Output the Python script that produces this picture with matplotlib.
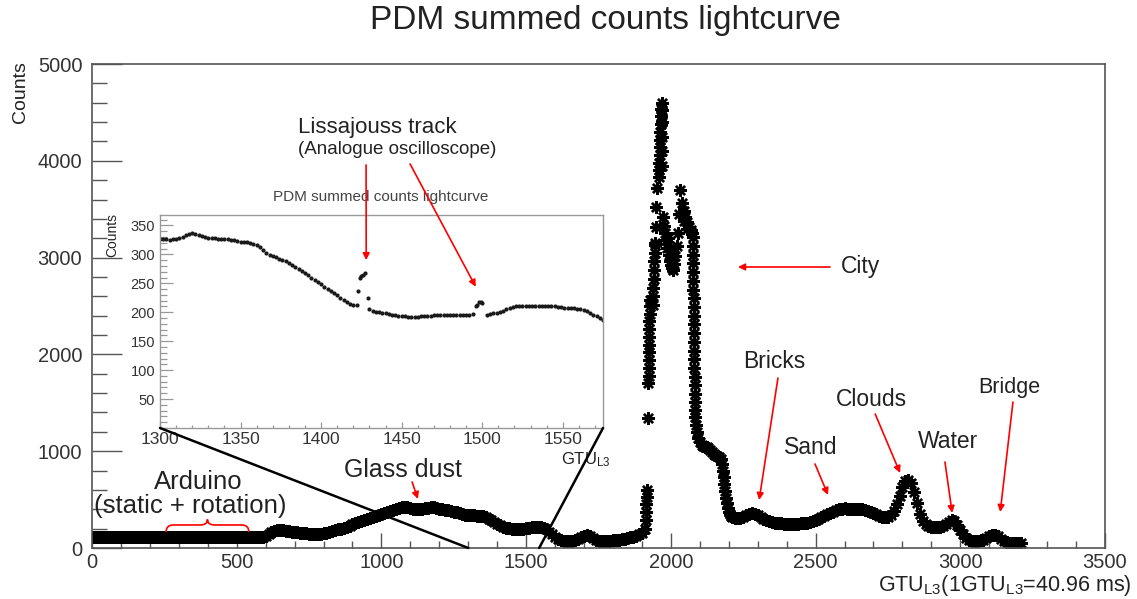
import numpy as np
import matplotlib
matplotlib.use("Agg")
import matplotlib.pyplot as plt
import matplotlib.ticker as ticker
from matplotlib.path import Path
from matplotlib.patches import PathPatch, ConnectionPatch

W, H = 1137, 599

# ---- main lightcurve (GTU, counts) ----
base_gtu = np.arange(0, 1910, 10)
base_counts = [
    110, 111, 109, 110, 112, 110, 109, 111, 110, 110,
    111, 109, 110, 112, 110, 109, 110, 111, 110, 109,
    110, 112, 111, 109, 110, 110, 111, 109, 110, 112,
    110, 109, 111, 110, 110, 111, 109, 110, 112, 110,
    109, 110, 111, 110, 109, 110, 112, 110, 109, 111,
    110, 110, 111, 109, 110, 112, 110, 109, 111,
    115, 125, 145, 165, 180, 190, 190, 185, 178, 172,
    170, 168, 165, 160, 155, 150, 148, 146, 145, 145,
    147, 152, 160, 168, 176, 185, 193, 200, 210, 220,
    232, 245, 258, 270, 282, 293, 302, 312, 322, 332,
    342, 350, 360, 370, 382, 395, 405, 414, 420, 422,
    420, 415, 408, 403, 402, 405, 412, 418, 421, 420,
    415, 408, 400, 393, 388, 382, 376, 370, 364, 356,
    346, 338, 336, 340, 334, 330, 326, 320, 302, 290,
    273, 253, 234, 218, 210, 203, 198, 197, 200, 201,
    201, 205, 204, 213, 215, 215, 213, 209, 197, 170,
    145, 115, 90, 78, 72, 70, 70, 72, 78, 90,
    110, 128, 134, 125, 105, 85, 75, 72, 72, 74,
    76, 80, 83, 87, 92, 97, 103, 110, 118, 128,
    142, 160,
]

peak_gtu = [
    1910, 1913, 1914, 1915, 1916, 1917, 1920, 1922, 1923, 1923,
    1924, 1924, 1925, 1925, 1926, 1926, 1927, 1927, 1928,
    1938, 1939, 1940, 1941, 1942, 1943, 1944, 1945, 1946, 1948,
    1950, 1952,
    1958, 1959, 1960, 1961, 1962, 1963, 1964, 1965, 1966, 1967,
    1968, 1970, 1971, 1971, 1970, 1969,
    1972, 1976, 1980, 1984, 1988, 1992, 1996, 2000, 2004, 2008,
    1990, 1998, 2004,
    2012, 2016, 2020, 2024, 2028, 2032,
    2038, 2044, 2050, 2056, 2062, 2068, 2074, 2046, 2056,
    2076, 2076, 2077, 2077, 2078, 2078, 2078, 2079, 2079, 2079,
    2080, 2080, 2080, 2081, 2081, 2081, 2082, 2082, 2082, 2083,
    2083,
    2085, 2088, 2091, 2095, 2100, 2106, 2112, 2118, 2124, 2130,
    2136, 2142, 2148, 2154, 2160, 2166, 2172,
    2176, 2179, 2182, 2185, 2188, 2191, 2194, 2197, 2200, 2204,
    2208,
]
peak_counts = [
    200, 290, 370, 450, 530, 600, 1340, 1700, 1780, 1860,
    1940, 2020, 2100, 2180, 2260, 2340, 2420, 2500, 2560,
    2510, 2600, 2690, 2780, 2870, 2960, 3050, 3130, 3150, 3320,
    3520, 3720,
    3830, 3900, 3980, 4060, 4140, 4220, 4300, 4380, 4460, 4540,
    4600, 4520, 4400, 4250, 4100, 3950,
    3420, 3330, 3250, 3180, 3100, 3030, 2970, 2920, 2890, 2870,
    3200, 3100, 3000,
    2930, 3020, 3120, 3250, 3450, 3700,
    3560, 3480, 3420, 3370, 3320, 3280, 3250, 3380, 3300,
    3210, 3120, 3030, 2940, 2850, 2760, 2670, 2580, 2490, 2400,
    2310, 2220, 2130, 2040, 1950, 1860, 1770, 1680, 1590, 1510,
    1425,
    1350, 1270, 1200, 1140, 1090, 1060, 1050, 1045, 1040, 1030,
    1010, 990, 975, 965, 955, 940, 920,
    870, 800, 730, 660, 590, 520, 460, 410, 375, 350,
    335,
]

tail_gtu = np.arange(2210, 3220, 10)
tail_counts = [
    325, 310, 305, 310, 325, 340, 355, 360, 355, 340,
    320, 300, 290, 280, 270, 263, 258, 254, 251, 250,
    250, 250, 251, 252, 254, 257, 262, 268, 276, 288,
    300, 318, 335, 350, 362, 375, 390, 400, 408, 410,
    408, 404, 400, 400, 402, 400, 393, 383, 372, 360,
    347, 335, 325, 320, 325, 345, 380, 450, 540, 630,
    690, 700, 670, 580, 460, 350, 280, 245, 228, 220,
    218, 220, 222, 228, 245, 270, 290, 280, 240, 190,
    140, 100, 80, 75, 74, 75, 78, 85, 100, 120,
    133, 135, 120, 95, 70, 60, 55, 52, 52, 50,
    50,
]

# ---- zoomed inset 1300-1575 ----
inset_gtu = [
    1300, 1302, 1304, 1306, 1308, 1310, 1312, 1314, 1316, 1318,
    1320, 1322, 1324, 1326, 1328, 1330, 1332, 1334, 1336, 1338,
    1340, 1342, 1344, 1346, 1348, 1350, 1352, 1354, 1356, 1358,
    1360, 1362, 1364, 1366, 1368, 1370, 1372, 1374, 1376, 1378,
    1380, 1382, 1384, 1386, 1388, 1390, 1392, 1394, 1396, 1398,
    1400, 1402, 1404, 1406, 1408, 1410, 1412, 1414, 1416, 1418,
    1420, 1422,
    1423, 1424, 1425, 1426, 1427, 1429,
    1430, 1432, 1434, 1436, 1438, 1440, 1442, 1444, 1446, 1448,
    1450, 1452, 1454, 1456, 1458, 1460, 1462, 1464, 1466, 1468,
    1470, 1472, 1474, 1476, 1478, 1480, 1482, 1484, 1486, 1488,
    1490, 1492, 1494,
    1496, 1497, 1498, 1499, 1500,
    1503, 1505, 1507, 1509, 1511, 1513, 1515, 1517, 1519, 1521,
    1523, 1525, 1527, 1529, 1531, 1533, 1535, 1537, 1539, 1541,
    1543, 1545, 1547, 1549, 1551, 1553, 1555, 1557, 1559, 1561,
    1563, 1565, 1567, 1569, 1571, 1573, 1575,
]
inset_counts = [
    327, 326, 326, 325, 326, 326, 328, 330, 333, 336,
    337, 336, 334, 332, 330, 329, 328, 328, 327, 327,
    326, 326, 325, 324, 323, 322, 322, 321, 320, 318,
    316, 312, 307, 302, 299, 297, 295, 292, 290, 288,
    285, 281, 278, 275, 272, 268, 264, 260, 256, 252,
    248, 244, 240, 236, 233, 229, 225, 221, 218, 215,
    213, 212,
    236, 259, 262, 264, 267, 224,
    205, 203, 201, 200, 199, 198, 197, 196, 195, 194,
    193, 193, 192, 192, 192, 192, 193, 193, 194, 194,
    195, 195, 196, 196, 196, 196, 196, 196, 196, 196,
    196, 196, 197,
    210, 213, 217, 218, 216,
    196, 197, 198, 199, 201, 203, 205, 207, 209, 210,
    210, 211, 211, 211, 211, 211, 211, 211, 210, 210,
    210, 210, 209, 209, 208, 208, 207, 207, 206, 205,
    204, 202, 199, 196, 193, 190, 187,
]

TXT = "#222222"


def fx(px):
    return px / W


def fy(py):
    return 1 - py / H


def add_brace(ax, x0, x1, y0, y1, y2, w):
    xm = 0.5 * (x0 + x1)
    verts = [
        (x0, y0), (x0, y1), (x0 + w, y1),
        (xm - w, y1), (xm, y1), (xm, y2),
        (xm, y1), (xm + w, y1),
        (x1 - w, y1), (x1, y1), (x1, y0),
    ]
    codes = [
        Path.MOVETO, Path.CURVE3, Path.CURVE3,
        Path.LINETO, Path.CURVE3, Path.CURVE3,
        Path.CURVE3, Path.CURVE3,
        Path.LINETO, Path.CURVE3, Path.CURVE3,
    ]
    ax.add_patch(PathPatch(Path(verts, codes), fc="none", ec="red", lw=1.2, zorder=6))


plt.rcParams.update({"font.family": "Liberation Sans", "mathtext.default": "regular"})
fig = plt.figure(figsize=(W / 100, H / 100), dpi=100)

# main axes
ax = fig.add_axes([fx(92), fy(548), (1105 - 92) / W, (548 - 64) / H])
star = (8, 2, 0)
for gx, gy in [(base_gtu, base_counts), (peak_gtu, peak_counts), (tail_gtu, tail_counts)]:
    ax.plot(gx, gy, ls="none", marker=star, ms=9, mew=1.7, color="k")
ax.set_xlim(0, 3500)
ax.set_ylim(0, 5000)
ax.xaxis.set_major_locator(ticker.MultipleLocator(500))
ax.xaxis.set_minor_locator(ticker.MultipleLocator(100))
ax.yaxis.set_major_locator(ticker.MultipleLocator(1000))
ax.yaxis.set_minor_locator(ticker.MultipleLocator(200))
ax.tick_params(which="both", direction="in", color="#555555", width=1.0,
               labelsize=14.5, labelcolor="#333333")
ax.tick_params(axis="x", which="major", length=10.5, pad=3.5)
ax.tick_params(axis="x", which="minor", length=5)
ax.tick_params(axis="y", which="major", length=21.5, pad=7)
ax.tick_params(axis="y", which="minor", length=11)
for s in ax.spines.values():
    s.set_color("#555555")
    s.set_linewidth(1.2)

fig.text(fx(605), fy(21), "PDM summed counts lightcurve", ha="center", va="center",
         size=24, color=TXT)
fig.text(fx(20), fy(92), "Counts", rotation=90, ha="center", va="center",
         size=14, color=TXT)
fig.text(fx(1132), fy(585), r"GTU$_{L3}$(1GTU$_{L3}$=40.96 ms)", ha="right",
         va="center", size=15.5, color=TXT)

# inset
ax_in = fig.add_axes([fx(160), fy(428), (603 - 160) / W, (428 - 215) / H])
ax_in.set_facecolor("white")
ax_in.plot(inset_gtu, inset_counts, ls="none", marker="o", ms=3.0, mew=0, color="#1a1a1a")
ax_in.set_xlim(1300, 1575)
ax_in.set_ylim(0, 368)
ax_in.xaxis.set_major_locator(ticker.MultipleLocator(50))
ax_in.xaxis.set_minor_locator(ticker.MultipleLocator(10))
ax_in.yaxis.set_major_locator(ticker.FixedLocator([50, 100, 150, 200, 250, 300, 350]))
ax_in.yaxis.set_minor_locator(ticker.MultipleLocator(10))
ax_in.tick_params(which="both", direction="in", color="#999999", width=0.9,
                  labelcolor="#333333")
ax_in.tick_params(axis="x", which="major", length=4.6, pad=3, labelsize=12.5)
ax_in.tick_params(axis="x", which="minor", length=2.3)
ax_in.tick_params(axis="y", which="major", length=9.4, pad=3.5, labelsize=10.5)
ax_in.tick_params(axis="y", which="minor", length=4.7)
for s in ax_in.spines.values():
    s.set_color("#999999")
    s.set_linewidth(1.0)

fig.text(fx(381), fy(197), "PDM summed counts lightcurve", ha="center", va="center",
         size=11, color="#444444")
fig.text(fx(112), fy(235), "Counts", rotation=90, ha="center", va="center",
         size=10, color=TXT)
fig.text(fx(611), fy(460), r"GTU$_{L3}$", ha="right", va="center", size=12, color=TXT)

# zoom lines from inset corners to the main axis
for corner, g in [((0, 0), 1300), ((1, 0), 1545)]:
    fig.add_artist(ConnectionPatch(xyA=corner, coordsA=ax_in.transAxes,
                                   xyB=(g, 0), coordsB=ax.transData,
                                   color="k", lw=1.8, zorder=8))

# Lissajous arrows (drawn over the inset)
fig.text(fx(377), fy(128), "Lissajouss track", ha="center", va="center", size=16, color=TXT)
fig.text(fx(397), fy(149), "(Analogue oscilloscope)", ha="center", va="center",
         size=13.5, color=TXT)
for tail, tip in [((947, 3957), (1428, 290)), ((1099, 3967), (1496, 244))]:
    fig.add_artist(ConnectionPatch(xyA=tail, coordsA=ax.transData,
                                   xyB=tip, coordsB=ax_in.transData,
                                   arrowstyle="-|>", mutation_scale=10,
                                   color="red", lw=1.2, zorder=9,
                                   shrinkA=0, shrinkB=0))

# labels on the main curve
labels = [
    ("City", 860, 267, 16.5),
    ("Bricks", 774, 362, 16.5),
    ("Clouds", 871, 400, 16.5),
    ("Sand", 811, 448, 16.5),
    ("Water", 948, 442, 16.5),
    ("Bridge", 1009, 387, 15.5),
    ("Glass dust", 403, 470, 18),
    ("Arduino", 198, 482, 18.5),
    ("(static + rotation)", 190, 506, 18.5),
]
for s, px, py, size in labels:
    fig.text(fx(px), fy(py), s, ha="center", va="center", size=size, color=TXT)

arrows = [
    ((2550, 2903), (2232, 2903)),
    ((2370, 1756), (2305, 496)),
    ((2498, 868), (2543, 548)),
    ((2706, 1384), (2792, 775)),
    ((2947, 888), (2972, 362)),
    ((3182, 1508), (3138, 372)),
    ((1106, 682), (1126, 506)),
]
for tail, tip in arrows:
    ax.annotate("", xy=tip, xytext=tail,
                arrowprops=dict(arrowstyle="-|>", color="red", lw=1.2,
                                mutation_scale=10, shrinkA=0, shrinkB=0),
                zorder=6)

add_brace(ax, 256, 542, 165, 238, 295, 25)

fig.savefig("out.png", dpi=100)
